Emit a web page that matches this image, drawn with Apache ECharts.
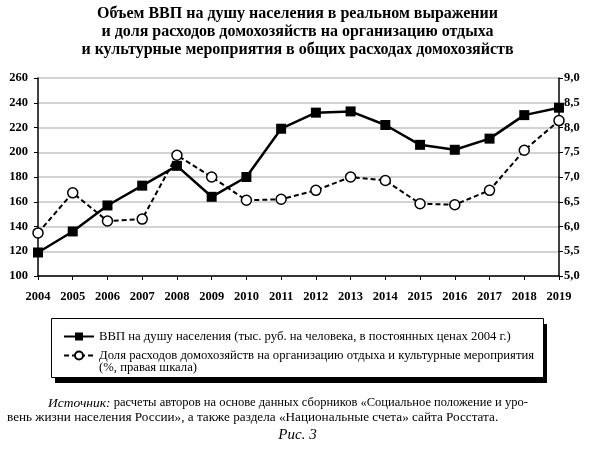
<!DOCTYPE html>
<html>
<head>
<meta charset="utf-8">
<script src="https://cdn.jsdelivr.net/npm/echarts@6/dist/echarts.min.js"></script>
<style>
  html, body { margin: 0; padding: 0; background: #fff; }
  #chart { width: 595px; height: 454px; }
</style>
</head>
<body>
<div id="chart"></div>
<script>
// годы
var years = ['2004','2005','2006','2007','2008','2009','2010','2011','2012','2013','2014','2015','2016','2017','2018','2019'];
// ВВП на душу населения, тыс. руб.
var gdpPerCapita = [119, 136, 157, 173, 189, 164, 180, 219, 232, 233, 222, 206, 202, 211, 230, 236];
// доля расходов на отдых и культуру, %
var leisureShare = [5.87, 6.68, 6.11, 6.15, 7.44, 7.0, 6.53, 6.55, 6.73, 7.0, 6.93, 6.46, 6.44, 6.73, 7.54, 8.14];

var titleLines = [
  'Объем ВВП на душу населения в реальном выражении',
  'и доля расходов домохозяйств на организацию отдыха',
  'и культурные мероприятия в общих расходах домохозяйств'
];
var seriesNames = [
  'ВВП на душу населения (тыс. руб. на человека, в постоянных ценах 2004 г.)',
  'Доля расходов домохозяйств на организацию отдыха и культурные мероприятия\n(%, правая шкала)'
];

var serif = '"Liberation Serif", "DejaVu Serif", serif';

var chart = echarts.init(document.getElementById('chart'));

var axisLabelStyle = { color: '#000', fontFamily: serif, fontSize: 12.5, fontWeight: 'bold' };

var option = {
  backgroundColor: '#fff',
  animation: false,
  title: {
    text: titleLines.join('\n'),
    left: 'center',
    top: 5,
    padding: 0,
    textStyle: { fontFamily: serif, fontSize: 16, fontWeight: 'bold', color: '#000', lineHeight: 17.8 }
  },
  grid: { left: 38, right: 36, top: 78, bottom: 178 },
  xAxis: {
    type: 'category',
    data: years,
    boundaryGap: false,
    axisLine: { lineStyle: { color: '#000', width: 1.5 } },
    axisTick: { alignWithLabel: true, length: 4, lineStyle: { color: '#000' } },
    axisLabel: Object.assign({ margin: 14 }, axisLabelStyle)
  },
  yAxis: [
    {
      type: 'value',
      min: 100, max: 260, interval: 20,
      axisLine: { show: true, lineStyle: { color: '#000', width: 1.5 } },
      axisTick: { show: true, length: 4, lineStyle: { color: '#000' } },
      axisLabel: Object.assign({ margin: 10 }, axisLabelStyle),
      splitLine: { lineStyle: { color: '#c4c4c4', width: 1.5 } }
    },
    {
      type: 'value',
      min: 5, max: 9, interval: 0.5,
      position: 'right',
      axisLine: { show: true, lineStyle: { color: '#000', width: 1.5 } },
      axisTick: { show: true, length: 4, lineStyle: { color: '#000' } },
      axisLabel: Object.assign({
        margin: 5,
        formatter: function (v) { return v.toFixed(1).replace('.', ','); }
      }, axisLabelStyle),
      splitLine: { show: false }
    }
  ],
  legend: {
    orient: 'vertical',
    left: 51,
    top: 318,
    padding: [12, 11, 5, 12],
    itemGap: -6,
    itemWidth: 30,
    itemHeight: 10,
    textStyle: { fontFamily: serif, fontSize: 12.7, color: '#000', lineHeight: 12 },
    // пустая строка сверху, чтобы значок стоял на уровне первой строки
    formatter: function (name) {
      return name.indexOf('\n') >= 0 ? ' \n' + name : name;
    },
    data: [seriesNames[0], seriesNames[1]]
  },
  graphic: [
    // рамка легенды с тенью
    {
      type: 'rect', z: 0,
      shape: { x: 55, y: 324, width: 492, height: 59 },
      style: { fill: '#000' }
    },
    {
      type: 'rect', z: 1,
      shape: { x: 51.5, y: 318.5, width: 492, height: 59 },
      style: { fill: '#fff', stroke: '#000', lineWidth: 1 }
    },
    {
      type: 'text', left: 48, top: 396,
      style: {
        text: '{i|Источник:} расчеты авторов на основе данных сборников «Социальное положение и уро-',
        font: '12.5px ' + serif, fill: '#000',
        rich: { i: { fontStyle: 'italic', fontFamily: serif, fontSize: 13.5 } }
      }
    },
    {
      type: 'text', left: 7, top: 411,
      style: { text: 'вень жизни населения России», а также раздела «Национальные счета» сайта Росстата.', font: '13.2px ' + serif, fill: '#000' }
    },
    {
      type: 'text', left: 'center', top: 428,
      style: { text: 'Рис. 3', font: 'italic 15px ' + serif, fill: '#000' }
    }
  ],
  series: [
    {
      name: seriesNames[0],
      type: 'line',
      yAxisIndex: 0,
      data: gdpPerCapita,
      symbol: 'rect',
      symbolSize: 10,
      itemStyle: { color: '#000' },
      lineStyle: { color: '#000', width: 2.5 }
    },
    {
      name: seriesNames[1],
      type: 'line',
      yAxisIndex: 1,
      data: leisureShare,
      symbol: 'circle',
      symbolSize: 10,
      showAllSymbol: true,
      itemStyle: { color: '#fff', borderColor: '#000', borderWidth: 1.5 },
      lineStyle: { color: '#000', width: 2, type: [5, 3] }
    }
  ]
};

chart.setOption(option);
</script>
</body>
</html>
